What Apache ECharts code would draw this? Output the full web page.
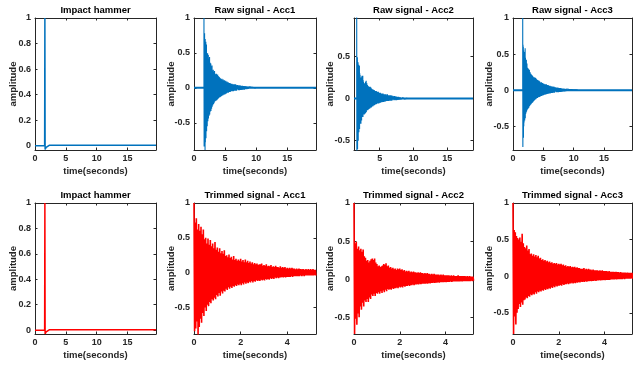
<!DOCTYPE html>
<html><head><meta charset="utf-8">
<script src="https://cdn.jsdelivr.net/npm/echarts@6/dist/echarts.min.js"></script>
<style>html,body{margin:0;padding:0;background:#fff}#c{width:633px;height:365px}</style>
</head><body><div id="c"></div>
<script>
// ---------------- DATA ----------------
const titles = ['Impact hammer','Raw signal - Acc1','Raw signal - Acc2','Raw signal - Acc3',
                'Impact hammer','Trimmed signal - Acc1','Trimmed signal - Acc2','Trimmed signal - Acc3'];
const xLabel = 'time(seconds)';
const yLabel = 'amplitude';

const impactTime = 1.6;          // seconds, impact instant in raw records
const envStep = 0.05;            // seconds between envelope samples
const tailStart = 5.4;           // seconds after impact where tail samples begin
const tailStep = 0.2;

// impact hammer force (normalised)
const hammerT = [0, 1.56, 1.6, 1.64, 1.7, 1.8, 1.95, 2.1, 2.3, 19.6];
const hammerV = [0, 0, 1.0, -0.03, -0.022, -0.014, -0.006, 0.0, 0.003, 0.003];

// response envelopes after impact (upper / lower peaks), t = 0 ... 5.2 s
const acc1Up = [1.00,0.72,0.78,0.62,0.70,0.60,0.66,0.55,0.62,0.48,
  0.50,0.42,0.49,0.40,0.47,0.38,0.42,0.35,0.44,0.33,
  0.36,0.30,0.35,0.28,0.31,0.27,0.32,0.24,0.25,0.22,
  0.26,0.21,0.23,0.19,0.24,0.18,0.20,0.17,0.19,0.17,
  0.20,0.16,0.18,0.15,0.19,0.15,0.17,0.14,0.16,0.13,
  0.15,0.12,0.14,0.12,0.13,0.11,0.12,0.12,0.13,0.10,
  0.11,0.10,0.12,0.09,0.10,0.09,0.11,0.08,0.09,0.08,
  0.10,0.08,0.08,0.07,0.09,0.07,0.08,0.07,0.08,0.06,
  0.07,0.06,0.07,0.06,0.07,0.06,0.06,0.05,0.06,0.05,
  0.06,0.05,0.05,0.05,0.05,0.04,0.05,0.04,0.05,0.04,
  0.05,0.04,0.05,0.04,0.04];
const acc1Lo = [-0.84,-0.80,-0.70,-0.89,-0.78,-0.66,-0.72,-0.58,-0.62,-0.50,
  -0.55,-0.46,-0.48,-0.42,-0.44,-0.38,-0.40,-0.36,-0.38,-0.32,
  -0.34,-0.29,-0.33,-0.27,-0.30,-0.26,-0.27,-0.23,-0.25,-0.21,
  -0.23,-0.20,-0.22,-0.19,-0.20,-0.18,-0.19,-0.17,-0.18,-0.16,
  -0.18,-0.15,-0.17,-0.14,-0.16,-0.14,-0.15,-0.13,-0.14,-0.12,
  -0.14,-0.12,-0.13,-0.11,-0.12,-0.11,-0.12,-0.10,-0.11,-0.10,
  -0.11,-0.09,-0.10,-0.09,-0.10,-0.08,-0.09,-0.08,-0.09,-0.07,
  -0.08,-0.07,-0.08,-0.07,-0.07,-0.06,-0.07,-0.06,-0.07,-0.06,
  -0.06,-0.06,-0.06,-0.05,-0.06,-0.05,-0.05,-0.05,-0.05,-0.05,
  -0.05,-0.04,-0.05,-0.04,-0.05,-0.04,-0.04,-0.04,-0.04,-0.04,
  -0.04,-0.04,-0.04,-0.035,-0.04];
const acc2Up = [1.00,0.47,0.49,0.40,0.43,0.38,0.40,0.36,0.39,0.30,
  0.28,0.24,0.25,0.22,0.24,0.26,0.27,0.25,0.27,0.22,
  0.20,0.17,0.18,0.16,0.17,0.18,0.20,0.19,0.21,0.17,
  0.18,0.15,0.16,0.14,0.15,0.13,0.14,0.12,0.14,0.13,
  0.14,0.12,0.13,0.11,0.12,0.10,0.11,0.10,0.11,0.09,
  0.10,0.09,0.10,0.09,0.09,0.08,0.09,0.08,0.09,0.08,
  0.08,0.07,0.08,0.07,0.08,0.07,0.07,0.06,0.07,0.06,
  0.07,0.06,0.06,0.06,0.06,0.05,0.06,0.05,0.06,0.05,
  0.05,0.05,0.05,0.05,0.04,0.05,0.04,0.05,0.04,0.04,
  0.04,0.05,0.04,0.04,0.04,0.04,0.04,0.04,0.035,0.04,
  0.035,0.04,0.035,0.035,0.035];
const acc2Lo = [-0.72,-0.52,-0.60,-0.45,-0.50,-0.36,-0.40,-0.31,-0.36,-0.28,
  -0.30,-0.26,-0.30,-0.24,-0.26,-0.20,-0.22,-0.19,-0.22,-0.18,
  -0.19,-0.17,-0.19,-0.16,-0.18,-0.15,-0.17,-0.14,-0.16,-0.13,
  -0.14,-0.13,-0.14,-0.12,-0.13,-0.12,-0.12,-0.11,-0.12,-0.10,
  -0.11,-0.10,-0.11,-0.09,-0.10,-0.09,-0.09,-0.08,-0.09,-0.08,
  -0.08,-0.07,-0.08,-0.07,-0.07,-0.065,-0.07,-0.06,-0.065,-0.06,
  -0.06,-0.06,-0.06,-0.055,-0.06,-0.05,-0.055,-0.05,-0.05,-0.045,
  -0.05,-0.045,-0.045,-0.04,-0.045,-0.04,-0.04,-0.04,-0.04,-0.035,
  -0.04,-0.035,-0.035,-0.035,-0.03,-0.035,-0.03,-0.03,-0.03,-0.03,
  -0.03,-0.03,-0.03,-0.025,-0.03,-0.025,-0.025,-0.025,-0.025,-0.025,
  -0.025,-0.025,-0.02,-0.025,-0.02];
const acc3Up = [1.00,0.63,0.60,0.55,0.52,0.50,0.53,0.47,0.58,0.45,
  0.40,0.38,0.42,0.35,0.37,0.30,0.31,0.28,0.30,0.27,
  0.29,0.26,0.28,0.24,0.25,0.22,0.23,0.21,0.22,0.20,
  0.21,0.19,0.20,0.18,0.19,0.17,0.18,0.17,0.18,0.16,
  0.17,0.16,0.17,0.15,0.16,0.14,0.15,0.13,0.14,0.13,
  0.14,0.12,0.13,0.12,0.13,0.11,0.12,0.11,0.11,0.10,
  0.10,0.10,0.11,0.09,0.10,0.09,0.10,0.09,0.09,0.08,
  0.09,0.08,0.08,0.08,0.08,0.07,0.08,0.07,0.08,0.07,
  0.07,0.07,0.07,0.06,0.07,0.06,0.06,0.06,0.06,0.055,
  0.06,0.055,0.055,0.05,0.055,0.05,0.05,0.05,0.05,0.045,
  0.05,0.045,0.045,0.045,0.045];
const acc3Lo = [-0.79,-0.55,-0.66,-0.50,-0.45,-0.38,-0.42,-0.36,-0.39,-0.33,
  -0.32,-0.29,-0.30,-0.27,-0.28,-0.25,-0.26,-0.24,-0.25,-0.22,
  -0.24,-0.21,-0.22,-0.20,-0.21,-0.19,-0.20,-0.18,-0.19,-0.17,
  -0.18,-0.16,-0.17,-0.15,-0.16,-0.14,-0.15,-0.13,-0.14,-0.13,
  -0.13,-0.12,-0.13,-0.11,-0.12,-0.11,-0.11,-0.10,-0.11,-0.10,
  -0.10,-0.09,-0.10,-0.09,-0.095,-0.085,-0.09,-0.08,-0.085,-0.075,
  -0.08,-0.075,-0.08,-0.07,-0.075,-0.07,-0.07,-0.065,-0.07,-0.065,
  -0.065,-0.06,-0.065,-0.06,-0.06,-0.055,-0.06,-0.055,-0.055,-0.05,
  -0.055,-0.05,-0.05,-0.05,-0.05,-0.045,-0.045,-0.045,-0.045,-0.04,
  -0.045,-0.04,-0.04,-0.04,-0.04,-0.04,-0.035,-0.04,-0.035,-0.035,
  -0.035,-0.035,-0.035,-0.03,-0.035];

// decay tails seen only in the raw records (t = 5.4 s after impact onward, step 0.2 s)
const acc1TailUp = [0.04,0.035,0.035,0.03,0.03,0.025,0.025,0.02,0.018,0.015,0.012,0.01,0.008,0.006,0.005];
const acc1TailLo = [-0.035,-0.035,-0.03,-0.03,-0.025,-0.025,-0.02,-0.02,-0.015,-0.012,-0.01,-0.008,-0.006,-0.005,-0.004];
const acc2TailUp = [0.03,0.03,0.025,0.02,0.02,0.015,0.012,0.01,0.008,0.006,0.005];
const acc2TailLo = [-0.02,-0.02,-0.018,-0.015,-0.012,-0.01,-0.008,-0.007,-0.006,-0.005,-0.004];
const acc3TailUp = [0.04,0.035,0.035,0.03,0.03,0.025,0.022,0.02,0.018,0.015,0.012,0.01,0.009,0.008,0.007,0.006,0.005,0.004,0.004];
const acc3TailLo = [-0.03,-0.03,-0.028,-0.025,-0.025,-0.02,-0.018,-0.016,-0.015,-0.012,-0.01,-0.009,-0.008,-0.007,-0.006,-0.005,-0.004,-0.004,-0.003];

// axis ranges and tick values per panel
const xRanges = [[0,19.6],[0,19.6],[1.2,18.8],[0,19.6],[0,19.6],[0,5.23],[0,5.2],[0,5.2]];
const yRanges = [[-0.034,1],[-0.89,1],[-0.61,0.955],[-0.83,1],[-0.03,1],[-0.88,1],[-0.72,1],[-0.79,1]];
const xTicks = [[0,5,10,15],[0,5,10,15],[5,10,15],[0,5,10,15],[0,5,10,15],[0,2,4],[0,2,4],[0,2,4]];
const yTicks = [[0,0.2,0.4,0.6,0.8,1],[-0.5,0,0.5,1],[-0.5,0,0.5],[-0.5,0,0.5,1],
                [0,0.2,0.4,0.6,0.8,1],[-0.5,0,0.5,1],[-0.5,0,0.5,1],[-0.5,0,0.5,1]];

// ---------------- LAYOUT ----------------
const layout = [
  {l:35,t:18,w:121,h:132},{l:194,t:18,w:122,h:132},{l:354,t:18,w:119,h:132},{l:513,t:18,w:119,h:132},
  {l:35,t:203,w:121,h:131},{l:194,t:203,w:122,h:131},{l:354,t:203,w:119,h:131},{l:513,t:203,w:119,h:131}
];
const yLabelX = [13.5,171.5,330.5,489.5,13.5,171.5,330.5,489.5];
const BLUE = '#0072BD', RED = '#FF0000', INK = '#262626';
const FONT = '"Liberation Sans", Arial, Helvetica, sans-serif';

function zig(offset, up, lo, dt) {
  const d = [];
  for (let i = 0; i < up.length; i++) {
    const t = offset + i * dt;
    d.push([t, up[i]]);
    d.push([t + dt / 2, lo[i]]);
  }
  return d;
}
function rawSignal(up, lo, tUp, tLo) {
  return [[impactTime, 0]].concat(zig(impactTime, up, lo, envStep), zig(impactTime + tailStart, tUp, tLo, tailStep));
}
const hammer = hammerT.map((t, i) => [t, hammerV[i]]);

const panels = [
  {color: BLUE, data: hammer, base: false, w: 1.5},
  {color: BLUE, data: rawSignal(acc1Up, acc1Lo, acc1TailUp, acc1TailLo), base: true, w: 1.1},
  {color: BLUE, data: rawSignal(acc2Up, acc2Lo, acc2TailUp, acc2TailLo), base: true, w: 1.1},
  {color: BLUE, data: rawSignal(acc3Up, acc3Lo, acc3TailUp, acc3TailLo), base: true, w: 1.1},
  {color: RED, data: hammer, base: false, w: 1.5},
  {color: RED, data: zig(0, acc1Up, acc1Lo, envStep), base: false, w: 1.6},
  {color: RED, data: zig(0, acc2Up, acc2Lo, envStep), base: false, w: 1.6},
  {color: RED, data: zig(0, acc3Up, acc3Lo, envStep), base: false, w: 1.6}
];

const grid = [], xAxis = [], yAxis = [], series = [], graphic = [];
layout.forEach((g, i) => {
  grid.push({left: g.l, top: g.t, width: g.w, height: g.h, show: false});
  const lineS = {show: true, onZero: false, lineStyle: {color: INK, width: 1}};
  const lab = {fontSize: 9, fontWeight: 'bold', color: INK, fontFamily: FONT, margin: 4};
  ['bottom', 'top'].forEach((pos, k) => xAxis.push({
    type: 'value', gridIndex: i, position: pos, min: xRanges[i][0], max: xRanges[i][1],
    axisLine: lineS, splitLine: {show: false},
    axisTick: {show: true, inside: true, length: 2.5, customValues: xTicks[i], lineStyle: {color: INK}},
    axisLabel: Object.assign({show: k === 0, customValues: xTicks[i]}, lab)
  }));
  ['left', 'right'].forEach((pos, k) => yAxis.push({
    type: 'value', gridIndex: i, position: pos, min: yRanges[i][0], max: yRanges[i][1],
    axisLine: lineS, splitLine: {show: false},
    axisTick: {show: true, inside: true, length: 2.5, customValues: yTicks[i], lineStyle: {color: INK}},
    axisLabel: Object.assign({show: k === 0, customValues: yTicks[i]}, lab)
  }));
  const p = panels[i];
  if (p.base) {
    series.push({type: 'line', xAxisIndex: 2 * i, yAxisIndex: 2 * i, showSymbol: false, silent: true,
      data: [[xRanges[i][0], 0], [xRanges[i][1], 0]], lineStyle: {color: p.color, width: 2}});
  }
  series.push({type: 'line', xAxisIndex: 2 * i, yAxisIndex: 2 * i, showSymbol: false, silent: true,
    sampling: null, clip: true, data: p.data, lineStyle: {color: p.color, width: p.w}});
  const cx = g.l + g.w / 2, cy = g.t + g.h / 2;
  graphic.push({type: 'text', x: cx, y: g.t - 8, silent: true,
    style: {text: titles[i], fill: '#000', font: 'bold 9.5px ' + FONT, align: 'center', verticalAlign: 'middle', textAlign: 'center', textVerticalAlign: 'middle'}});
  graphic.push({type: 'text', x: cx, y: g.t + g.h + 21, silent: true,
    style: {text: xLabel, fill: INK, font: 'bold 9.5px ' + FONT, align: 'center', verticalAlign: 'middle', textAlign: 'center', textVerticalAlign: 'middle'}});
  graphic.push({type: 'text', x: yLabelX[i], y: cy, rotation: Math.PI / 2, silent: true,
    style: {text: yLabel, fill: INK, font: 'bold 9.5px ' + FONT, align: 'center', verticalAlign: 'middle', textAlign: 'center', textVerticalAlign: 'middle'}});
});

const chart = echarts.init(document.getElementById('c'), null, {renderer: 'canvas'});
chart.setOption({animation: false, backgroundColor: '#fff', grid, xAxis, yAxis, series, graphic});
</script></body></html>
